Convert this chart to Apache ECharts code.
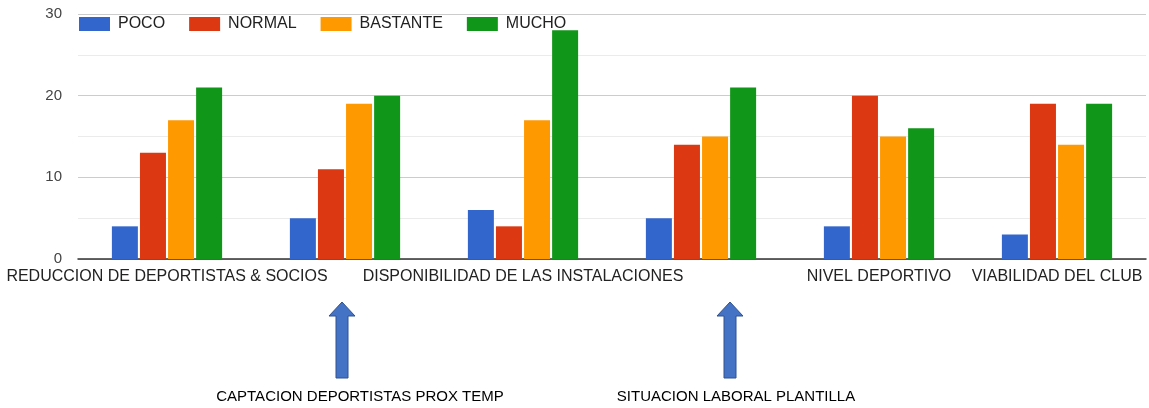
<!DOCTYPE html>
<html>
<head>
<meta charset="utf-8">
<script src="https://cdn.jsdelivr.net/npm/echarts@6/dist/echarts.min.js"></script>
<style>
html,body{margin:0;padding:0;background:#fff;}
#chart{width:1149px;height:408px;}
</style>
</head>
<body>
<div id="chart"></div>
<script>
const categories = [
  'REDUCCION DE DEPORTISTAS & SOCIOS',
  'CAPTACION DEPORTISTAS PROX TEMP',
  'DISPONIBILIDAD DE LAS INSTALACIONES',
  'SITUACION LABORAL PLANTILLA',
  'NIVEL DEPORTIVO',
  'VIABILIDAD DEL CLUB'
];
const seriesNames = ['POCO', 'NORMAL', 'BASTANTE', 'MUCHO'];
const poco     = [4, 5, 6, 5, 4, 3];
const normal   = [13, 11, 4, 14, 20, 19];
const bastante = [17, 19, 17, 15, 15, 14];
const mucho    = [21, 20, 28, 21, 16, 19];
const colors = ['#3366cc', '#dc3912', '#ff9900', '#109618'];
const yTicks = [0, 10, 20, 30];
const hiddenLabelIdx = [1, 3];

const chart = echarts.init(document.getElementById('chart'));
const values = [poco, normal, bastante, mucho];

function arrow(cx) {
  const tipY = 302, headY = 316, bottomY = 378, hw = 13, sw = 6;
  return {
    type: 'polygon',
    shape: { points: [[cx, tipY], [cx + hw, headY], [cx + sw, headY], [cx + sw, bottomY], [cx - sw, bottomY], [cx - sw, headY], [cx - hw, headY]] },
    style: { fill: '#4472c4', stroke: '#2f528f', lineWidth: 1 }
  };
}

chart.setOption({
  animation: false,
  color: colors,
  textStyle: { fontFamily: 'Arial, "Liberation Sans", sans-serif' },
  legend: {
    left: 74, top: 11,
    itemWidth: 31, itemHeight: 14, itemGap: 24,
    icon: 'rect',
    textStyle: { fontSize: 16, color: '#222', padding: [0, 0, 0, 3] },
    data: seriesNames
  },
  grid: { left: 78, right: 3, top: 14, bottom: 149, containLabel: false },
  xAxis: {
    type: 'category',
    data: categories,
    axisLine: { show: true, lineStyle: { color: '#333', width: 1.5 } },
    axisTick: { show: false },
    axisLabel: {
      interval: 0, margin: 10, fontSize: 16, color: '#222',
      formatter: (v, i) => hiddenLabelIdx.includes(i) ? '' : v
    }
  },
  yAxis: {
    type: 'value',
    min: yTicks[0], max: yTicks[yTicks.length - 1], interval: 10,
    axisLine: { show: false },
    axisTick: { show: false },
    axisLabel: { fontSize: 15, color: '#444', margin: 16 },
    splitLine: { lineStyle: { color: '#cccccc' } },
    minorTick: { show: false, splitNumber: 2 },
    minorSplitLine: { show: true, lineStyle: { color: '#ebebeb' } }
  },
  series: seriesNames.map((n, i) => ({
    name: n, type: 'bar', data: values[i],
    barWidth: 26, barGap: '8%',
    itemStyle: { color: colors[i] }
  })),
  graphic: [
    arrow(342),
    arrow(730),
    { type: 'text', x: 360, y: 397, style: { text: categories[1], fill: '#000', font: '15px "Liberation Sans", Arial, sans-serif', align: 'center', verticalAlign: 'middle' } },
    { type: 'text', x: 736, y: 397, style: { text: categories[3], fill: '#000', font: '15px "Liberation Sans", Arial, sans-serif', align: 'center', verticalAlign: 'middle' } }
  ]
});
</script>
</body>
</html>
